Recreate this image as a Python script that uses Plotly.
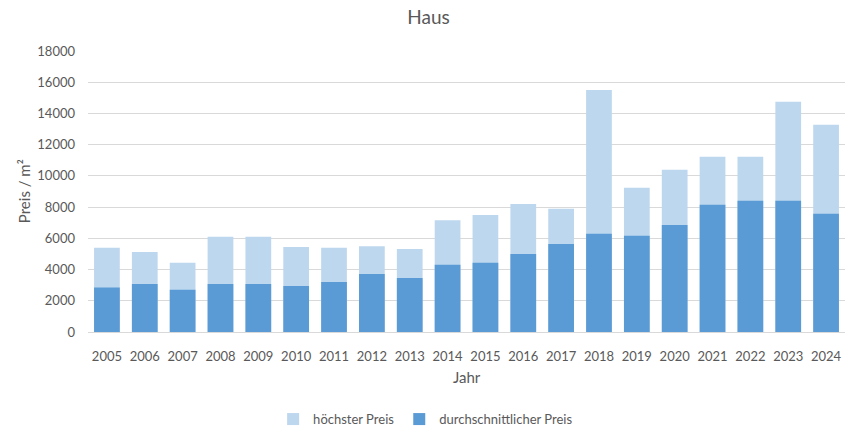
import plotly.graph_objects as go

years = [str(y) for y in range(2005, 2025)]
hoechster = [5400, 5130, 4430, 6100, 6100, 5450, 5390, 5500, 5320, 7160,
             7500, 8200, 7890, 15500, 9240, 10400, 11220, 11220, 14750, 13280]
durchschnitt = [2850, 3080, 2700, 3080, 3080, 2950, 3200, 3720, 3460, 4300,
                4430, 5000, 5640, 6290, 6160, 6860, 8150, 8400, 8400, 7570]
y_ticks = [0, 2000, 4000, 6000, 8000, 10000, 12000, 14000, 16000, 18000]

FONT = "Lato"
GRAY = "#595959"

fig = go.Figure()
fig.add_trace(go.Bar(x=years, y=hoechster, name="höchster Preis",
                     marker=dict(color="#BDD7EE", line=dict(width=0))))
fig.add_trace(go.Bar(x=years, y=durchschnitt, name="durchschnittlicher Preis",
                     marker=dict(color="#5B9BD5", line=dict(width=0))))

fig.update_layout(
    width=857, height=436,
    margin=dict(l=88, r=12, t=51, b=104, autoexpand=False),
    paper_bgcolor="white", plot_bgcolor="white",
    barmode="overlay", bargap=0.32,
    font=dict(family=FONT, size=13, color=GRAY),
    title=dict(text="Haus", x=0.5, xanchor="center", y=0.96, yanchor="middle",
               font=dict(family=FONT, size=19, color=GRAY)),
    xaxis=dict(type="category", showgrid=False, showline=True, linecolor="#D9D9D9",
               ticks="", ticklabelstandoff=12, tickfont=dict(size=13, color=GRAY)),
    yaxis=dict(range=[0, 18000], tickvals=y_ticks, ticktext=[str(v) for v in y_ticks],
               showgrid=True, gridcolor="#D9D9D9",
               zeroline=False, showline=False, ticks="", ticklabelstandoff=12,
               tickfont=dict(size=13, color=GRAY)),
    legend=dict(orientation="h", x=0.446, xanchor="center", y=-0.31, yanchor="middle",
                font=dict(size=13, color=GRAY), itemwidth=30, traceorder="normal"),
    annotations=[
        dict(text="Jahr", xref="paper", yref="paper", x=0.5, y=-0.16,
             showarrow=False, font=dict(size=15, color=GRAY), yanchor="middle"),
        dict(text="Preis / m²", xref="paper", yref="paper", x=-0.085, y=0.5,
             textangle=-90, showarrow=False, font=dict(size=15, color=GRAY),
             xanchor="center", yanchor="middle"),
    ],
)

fig.write_html("out.html")
